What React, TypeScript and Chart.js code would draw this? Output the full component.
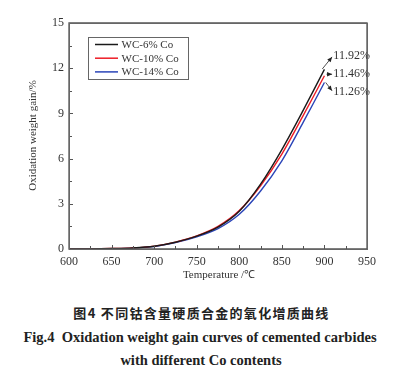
import React, { useEffect, useRef } from "react";
import { Chart, registerables } from "chart.js";

Chart.register(...registerables);

// ---------- data ----------
const temperatures = [600, 625, 650, 675, 700, 725, 750, 775, 800, 825, 850, 875, 900];
const wc6 = [0, 0.01, 0.03, 0.07, 0.18, 0.45, 0.85, 1.45, 2.5, 4.3, 6.6, 9.2, 11.92];
const wc10 = [0, 0.01, 0.03, 0.07, 0.19, 0.46, 0.87, 1.5, 2.55, 4.2, 6.3, 8.85, 11.5];
const wc14 = [0, 0.01, 0.02, 0.06, 0.16, 0.42, 0.8, 1.35, 2.3, 3.85, 5.85, 8.4, 11.05];
const seriesNames = ["WC-6% Co", "WC-10% Co", "WC-14% Co"];
const endLabels = ["11.92%", "11.46%", "11.26%"];
const xTickValues = [600, 650, 700, 750, 800, 850, 900, 950];
const yTickValues = [0, 3, 6, 9, 12, 15];

// annotation geometry in data units (arrow from curve end to label)
const arrowGeom = [
  { from: [897.5, 11.95], to: [909, 12.75], label: [910.5, 12.85] },
  { from: [902.5, 11.6], to: [909, 11.6], label: [910.5, 11.65] },
  { from: [901.5, 11.05], to: [909, 10.5], label: [910.5, 10.42] },
];

const COLORS = ["#1a1a1a", "#ee1c25", "#2a44b8"];
const SERIF = "'Liberation Serif', 'Times New Roman', serif";
const TEXT = "#333";

const framePlugin = {
  id: "frame",
  afterDraw(chart: any) {
    const ctx = chart.ctx;
    const xs = chart.scales.x, ys = chart.scales.y;
    const L = xs.left, R = xs.right, T = ys.top, B = ys.bottom;
    ctx.save();
    ctx.strokeStyle = "#555";
    ctx.lineWidth = 1.3;
    ctx.beginPath();
    ctx.rect(L, T, R - L, B - T);
    ctx.stroke();
    ctx.lineWidth = 1;
    ctx.beginPath();
    for (let v = 600; v <= 950; v += 25) {
      const px = Math.round(xs.getPixelForValue(v)) + 0.5;
      ctx.moveTo(px, B);
      ctx.lineTo(px, B - (v % 50 === 0 ? 4 : 3));
    }
    for (let k = 0; k <= 10; k++) {
      const py = Math.round(ys.getPixelForValue(k * 1.5)) + 0.5;
      ctx.moveTo(L, py);
      ctx.lineTo(L + (k % 2 === 0 ? 4 : 3), py);
    }
    ctx.stroke();
    ctx.restore();
  },
};

const decorPlugin = {
  id: "decor",
  afterDraw(chart: any) {
    const ctx = chart.ctx;
    const xs = chart.scales.x;
    const ys = chart.scales.y;
    const L = xs.left, R = xs.right, T = ys.top, B = ys.bottom;
    ctx.save();
    ctx.fillStyle = TEXT;
    ctx.font = `11px ${SERIF}`;
    ctx.textAlign = "center";
    ctx.textBaseline = "middle";
    ctx.fillText("Temperature /℃", (L + R) / 2 + 1, 275);
    ctx.save();
    ctx.translate(33, (T + B) / 2 - 0.5);
    ctx.rotate(-Math.PI / 2);
    ctx.fillText("Oxidation weight gain/%", 0, 0);
    ctx.restore();

    const bx = 88, by = 37, bw = 100, bh = 42;
    ctx.fillStyle = "#fff";
    ctx.fillRect(bx, by, bw, bh);
    ctx.strokeStyle = "#666";
    ctx.lineWidth = 1;
    ctx.strokeRect(bx + 0.5, by + 0.5, bw, bh);
    chart.data.datasets.forEach((ds: any, i: number) => {
      const yy = 44.5 + i * 13.7;
      ctx.strokeStyle = ds.borderColor;
      ctx.lineWidth = 1.5;
      ctx.beginPath();
      ctx.moveTo(95, yy);
      ctx.lineTo(118, yy);
      ctx.stroke();
      ctx.fillStyle = TEXT;
      ctx.font = `11px ${SERIF}`;
      ctx.textAlign = "left";
      ctx.textBaseline = "middle";
      ctx.fillText(ds.label, 121.5, yy + 0.5);
    });

    arrowGeom.forEach((g, i) => {
      const x1 = xs.getPixelForValue(g.from[0]);
      const y1 = ys.getPixelForValue(g.from[1]);
      const x2 = xs.getPixelForValue(g.to[0]);
      const y2 = ys.getPixelForValue(g.to[1]);
      ctx.strokeStyle = "#222";
      ctx.fillStyle = "#222";
      ctx.lineWidth = 0.8;
      ctx.beginPath();
      ctx.moveTo(x1, y1);
      ctx.lineTo(x2, y2);
      ctx.stroke();
      const ang = Math.atan2(y2 - y1, x2 - x1);
      const HL = 5, HW = 2.2;
      ctx.beginPath();
      ctx.moveTo(x2, y2);
      ctx.lineTo(x2 - HL * Math.cos(ang) + HW * Math.sin(ang), y2 - HL * Math.sin(ang) - HW * Math.cos(ang));
      ctx.lineTo(x2 - HL * Math.cos(ang) - HW * Math.sin(ang), y2 - HL * Math.sin(ang) + HW * Math.cos(ang));
      ctx.closePath();
      ctx.fill();
      ctx.fillStyle = TEXT;
      ctx.font = `12px ${SERIF}`;
      ctx.textAlign = "left";
      ctx.textBaseline = "middle";
      ctx.fillText(endLabels[i], xs.getPixelForValue(g.label[0]), ys.getPixelForValue(g.label[1]));
    });
    ctx.restore();
  },
};

export default function App() {
  const ref = useRef<HTMLCanvasElement | null>(null);
  const frameRef = useRef<HTMLDivElement | null>(null);
  useEffect(() => {
    if (!ref.current) return;
    const mk = (vals: number[]) => temperatures.map((t, i) => ({ x: t, y: vals[i] }));
    const chart = new Chart(ref.current, {
      type: "line",
      data: {
        datasets: [wc6, wc10, wc14].map((vals, i) => ({
          label: seriesNames[i],
          data: mk(vals),
          borderColor: COLORS[i],
          borderWidth: 1.4,
          pointRadius: 0,
          tension: 0.3,
        })),
      },
      options: {
        responsive: false,
        animation: false,
        layout: { padding: { top: 23, right: 48 } },
        plugins: { legend: { display: false } },
        scales: {
          x: {
            type: "linear",
            min: 600,
            max: 950,
            afterFit: (s: any) => { s.height = 41; },
            afterBuildTicks: (s: any) => { s.ticks = xTickValues.map((v) => ({ value: v })); },
            grid: { display: false, drawTicks: false },
            border: { display: false },
            ticks: { color: TEXT, font: { family: SERIF, size: 12 }, padding: 6, maxRotation: 0, autoSkip: false },
          },
          y: {
            min: 0,
            max: 15,
            afterFit: (s: any) => { s.width = 69; },
            afterBuildTicks: (s: any) => { s.ticks = yTickValues.map((v) => ({ value: v })); },
            grid: { display: false, drawTicks: false },
            border: { display: false },
            ticks: { color: TEXT, font: { family: SERIF, size: 12 }, padding: 5, autoSkip: false },
          },
        },
      },
      plugins: [framePlugin, decorPlugin],
    });
    // CSS frame that follows the library's computed plot area
    const a = chart.chartArea;
    if (frameRef.current && a) {
      const f = frameRef.current.style;
      f.left = `${a.left - 0.5}px`;
      f.top = `${a.top - 0.5}px`;
      f.width = `${a.right - a.left - 1}px`;
      f.height = `${a.bottom - a.top - 1}px`;
      f.display = "block";
    }
    return () => chart.destroy();
  }, []);

  return (
    <>
      <div style={{ position: "absolute", left: 0, top: 0 }}>
        <canvas ref={ref} width={415} height={290} />
        <div
          ref={frameRef}
          style={{ position: "absolute", display: "none", border: "1px solid #666", pointerEvents: "none" }}
        />
      </div>
      <div
        style={{
          position: "absolute", left: 0, width: 403, top: 304, textAlign: "center",
          fontFamily: "'Noto Sans CJK SC', sans-serif", fontWeight: 700, fontSize: 13, lineHeight: "18px",
          letterSpacing: "1.3px", color: "#222",
        }}
      >
        图4 不同钴含量硬质合金的氧化增质曲线
      </div>
      <div
        style={{
          position: "absolute", left: 0, width: 400, top: 328, textAlign: "center",
          fontFamily: SERIF, fontWeight: 700, fontSize: 14.5, lineHeight: "18px", color: "#222",
        }}
      >
        Fig.4&nbsp; Oxidation weight gain curves of cemented carbides
      </div>
      <div
        style={{
          position: "absolute", left: 0, width: 402, top: 351, textAlign: "center",
          fontFamily: SERIF, fontWeight: 700, fontSize: 14.5, lineHeight: "18px", color: "#222",
        }}
      >
        with different Co contents
      </div>
    </>
  );
}
